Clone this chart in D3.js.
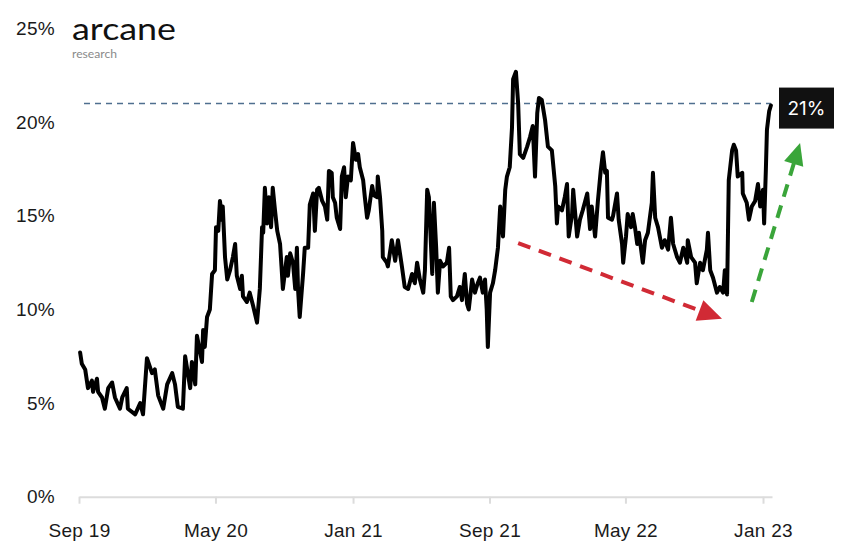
<!DOCTYPE html>
<html>
<head>
<meta charset="utf-8">
<script src="https://cdn.jsdelivr.net/npm/d3@7"></script>
<style>
  html, body { margin: 0; padding: 0; background: #fff; }
  svg { display: block; font-family: Inter, "Open Sans", sans-serif; }
</style>
</head>
<body>
<svg id="chart" width="850" height="547"></svg>
<script>
// ---- data ----
const dates = [
"2019-09-03","2019-09-06","2019-09-12","2019-09-17","2019-09-24","2019-09-26","2019-10-03","2019-10-05","2019-10-12","2019-10-17",
"2019-10-23","2019-10-30","2019-11-04","2019-11-13","2019-11-17","2019-11-25","2019-11-27","2019-12-10","2019-12-19","2019-12-24",
"2019-12-31","2020-01-09","2020-01-14","2020-01-20","2020-01-29","2020-02-05","2020-02-14","2020-02-19","2020-02-24","2020-03-04",
"2020-03-08","2020-03-17","2020-03-20","2020-03-26","2020-03-29","2020-04-07","2020-04-09","2020-04-12","2020-04-16","2020-04-21",
"2020-04-25","2020-04-30","2020-05-02","2020-05-06","2020-05-09","2020-05-13","2020-05-14","2020-05-18","2020-05-22","2020-05-27",
"2020-06-01","2020-06-05","2020-06-08","2020-06-14","2020-06-17","2020-06-19","2020-06-26","2020-07-01","2020-07-07","2020-07-14",
"2020-07-19","2020-07-23","2020-07-25","2020-07-28","2020-08-01","2020-08-04","2020-08-08","2020-08-11","2020-08-15","2020-08-19",
"2020-08-24","2020-08-27","2020-08-29","2020-09-05","2020-09-07","2020-09-11","2020-09-16","2020-09-20","2020-09-23","2020-09-25",
"2020-09-28","2020-10-04","2020-10-07","2020-10-13","2020-10-16","2020-10-22","2020-10-25","2020-10-29","2020-11-01","2020-11-07",
"2020-11-12","2020-11-16","2020-11-19","2020-11-24","2020-11-26","2020-11-30","2020-12-03","2020-12-09","2020-12-12","2020-12-16",
"2020-12-19","2020-12-23","2020-12-28","2021-01-01","2021-01-06","2021-01-10","2021-01-13","2021-01-19","2021-01-22","2021-01-26",
"2021-01-29","2021-02-04","2021-02-07","2021-02-13","2021-02-14","2021-02-18","2021-02-22","2021-02-23","2021-03-02","2021-03-04",
"2021-03-11","2021-03-17","2021-03-22","2021-03-29","2021-04-03","2021-04-09","2021-04-16","2021-04-21","2021-04-25","2021-04-30",
"2021-05-06","2021-05-09","2021-05-13","2021-05-16","2021-05-22","2021-05-25","2021-05-29","2021-06-01","2021-06-05","2021-06-10",
"2021-06-17","2021-06-21","2021-06-24","2021-06-28","2021-07-05","2021-07-10","2021-07-14","2021-07-19","2021-07-23","2021-07-26",
"2021-08-01","2021-08-06","2021-08-11","2021-08-15","2021-08-20","2021-08-24","2021-08-27","2021-08-29","2021-09-02","2021-09-07",
"2021-09-11","2021-09-16","2021-09-20","2021-09-25","2021-09-29","2021-10-02","2021-10-07","2021-10-11","2021-10-13","2021-10-18",
"2021-10-22","2021-10-25","2021-10-31","2021-11-07","2021-11-12","2021-11-17","2021-11-21","2021-11-25","2021-11-28","2021-12-03",
"2021-12-09","2021-12-14","2021-12-21","2021-12-27","2021-12-30","2022-01-01","2022-01-08","2022-01-13","2022-01-17","2022-01-20",
"2022-01-26","2022-01-28","2022-02-04","2022-02-09","2022-02-14","2022-02-22","2022-02-27","2022-03-02","2022-03-08","2022-03-13",
"2022-03-18","2022-03-22","2022-03-26","2022-03-29","2022-03-31","2022-04-07","2022-04-09","2022-04-16","2022-04-19","2022-04-25",
"2022-04-27","2022-05-02","2022-05-05","2022-05-11","2022-05-14","2022-05-18","2022-05-22","2022-05-25","2022-06-01","2022-06-05",
"2022-06-10","2022-06-17","2022-06-19","2022-06-23","2022-06-28","2022-07-05","2022-07-10","2022-07-16","2022-07-21","2022-07-25",
"2022-08-01","2022-08-06","2022-08-12","2022-08-19","2022-08-20","2022-08-26","2022-09-02","2022-09-05","2022-09-11","2022-09-16",
"2022-09-23","2022-09-25","2022-09-29","2022-10-04","2022-10-11","2022-10-16","2022-10-22","2022-10-25","2022-10-29","2022-11-01",
"2022-11-07","2022-11-10","2022-11-14","2022-11-17","2022-11-25","2022-11-26","2022-12-03","2022-12-07","2022-12-12","2022-12-18",
"2022-12-23","2022-12-27","2023-01-01","2023-01-03","2023-01-06","2023-01-08","2023-01-12","2023-01-15"
];
const values = [
7.7,7.1,6.8,5.8,6.2,5.6,6.3,5.6,5.3,4.7,
5.8,6.1,5.3,4.7,5.3,5.8,4.7,4.4,5.0,4.4,
7.4,6.6,6.8,5.4,4.7,6.0,6.6,6.0,4.8,4.7,
7.5,5.8,7.2,6.0,8.6,7.2,8.9,8.0,9.6,10.0,
11.9,12.1,14.4,14.2,15.8,14.8,15.5,12.8,11.6,12.1,
12.8,13.5,11.8,11.1,11.8,10.7,10.4,10.9,10.2,9.3,
11.1,14.4,14.1,16.5,14.6,16.0,14.4,16.5,15.3,14.2,
13.5,12.1,11.1,12.8,11.8,13.0,12.5,11.1,13.3,11.1,
9.6,11.9,13.3,13.3,15.6,16.2,14.2,16.4,16.5,15.8,
15.5,14.8,17.4,17.3,16.0,15.7,14.9,14.3,17.1,17.6,
16.0,17.1,16.9,18.9,18.0,18.3,17.6,16.9,16.0,14.9,
15.3,16.6,16.1,16.0,17.1,16.0,14.2,12.8,12.5,12.3,
13.7,12.6,13.7,12.3,11.2,11.1,11.9,11.4,12.5,11.6,
10.9,12.1,16.4,16.0,11.9,15.7,13.3,10.9,12.6,12.3,
12.5,13.3,10.7,10.5,10.7,11.2,10.5,11.9,10.3,10.0,
11.6,10.9,11.4,11.7,10.9,11.6,10.0,8.0,10.9,11.4,
12.1,13.3,15.5,13.9,16.4,17.1,17.6,19.7,22.3,22.7,
21.0,18.3,18.1,18.7,19.2,19.8,17.1,20.5,21.3,21.2,
20.1,18.7,18.5,16.6,14.6,15.5,15.3,16.0,16.7,13.9,
15.1,16.4,13.9,14.8,15.3,16.2,14.3,15.5,13.9,15.8,
17.4,18.4,17.3,17.4,14.9,14.8,15.0,16.2,14.8,13.5,
12.5,13.9,15.1,14.4,15.1,14.4,13.5,14.1,12.5,13.7,
14.1,15.7,17.3,14.9,14.4,13.3,13.7,13.2,14.9,13.5,
12.8,12.5,13.3,12.5,13.7,12.8,12.5,11.4,12.5,12.1,
13.2,14.1,12.1,11.7,10.9,11.2,10.9,12.1,10.8,16.9,
18.5,18.8,18.5,17.1,17.3,16.2,15.7,14.8,15.5,15.8,
16.7,15.5,16.4,14.6,17.4,19.6,20.6,20.9
];
const yTicks = [0, 5, 10, 15, 20, 25];
const xTickDates = ["2019-09-01","2020-05-01","2021-01-01","2021-09-01","2022-05-01","2023-01-01"];
const refValue = 21;
const refLabel = "21%";
const redArrow = [["2021-10-22", 13.55], ["2022-10-20", 9.5]];
const greenArrow = [["2022-12-12", 10.4], ["2023-03-08", 18.9]];

// ---- chart ----
const parse = d3.utcParse("%Y-%m-%d");
const fmt = d3.utcFormat("%b %y");
const data = dates.map((d, i) => ({ date: parse(d), value: values[i] }));

const svg = d3.select("#chart");
const x = d3.scaleUtc()
  .domain([parse("2019-09-01"), parse("2023-01-17")])
  .range([79, 772]);
const y = d3.scaleLinear().domain([0, 25]).range([496.7, 28.7]);

// x axis
const xAxis = svg.append("g")
  .attr("transform", `translate(0,${y(0)})`)
  .call(d3.axisBottom(x)
    .tickValues(xTickDates.map(parse))
    .tickFormat(fmt)
    .tickSize(7)
    .tickSizeOuter(0));
xAxis.select(".domain").attr("stroke", "#dcdcdc").attr("stroke-width", 2);
xAxis.selectAll(".tick line").attr("stroke", "#dcdcdc").attr("stroke-width", 2);
xAxis.selectAll(".tick text")
  .attr("y", 40).attr("dy", 0)
  .attr("fill", "#1a1a1a")
  .style("font-size", "19px")
  .style("letter-spacing", "0.3px");

// y axis labels
const yAxis = svg.append("g")
  .attr("transform", `translate(79,0)`)
  .call(d3.axisLeft(y).tickValues(yTicks).tickFormat(d => d + "%").tickSize(0).tickPadding(24));
yAxis.select(".domain").remove();
yAxis.selectAll(".tick text")
  .attr("fill", "#1a1a1a")
  .style("font-size", "19px")
  .style("letter-spacing", "0.3px");

// reference dashed line
svg.append("line")
  .attr("x1", 84).attr("x2", x(data[data.length - 1].date))
  .attr("y1", y(refValue)).attr("y2", y(refValue))
  .attr("stroke", "#4f6f8f").attr("stroke-width", 1.5)
  .attr("stroke-dasharray", "6,5");

// main line
const line = d3.line().x(d => x(d.date)).y(d => y(d.value)).curve(d3.curveLinear);
svg.append("path")
  .datum(data)
  .attr("d", line)
  .attr("fill", "none")
  .attr("stroke", "#000")
  .attr("stroke-width", 4)
  .attr("stroke-linejoin", "round")
  .attr("stroke-linecap", "round");

// value label box
const bx = 779, bw = 55, by = y(refValue) - 16, bh = 41;
svg.append("rect").attr("x", bx).attr("y", by).attr("width", bw).attr("height", bh).attr("fill", "#111");
svg.append("text")
  .attr("x", bx + bw / 2).attr("y", by + bh / 2)
  .attr("text-anchor", "middle").attr("dominant-baseline", "central")
  .attr("fill", "#fff").style("font-size", "19px")
  .text(refLabel);

// arrows
function arrow(pts, color, headLen, headW) {
  const [p0, p1] = pts.map(([d, v]) => [x(parse(d)), y(v)]);
  const dx = p1[0] - p0[0], dy = p1[1] - p0[1];
  const L = Math.hypot(dx, dy), ux = dx / L, uy = dy / L;
  const bxp = p1[0] - ux * headLen, byp = p1[1] - uy * headLen;
  svg.append("line")
    .attr("x1", p0[0]).attr("y1", p0[1])
    .attr("x2", bxp + ux * 2).attr("y2", byp + uy * 2)
    .attr("stroke", color).attr("stroke-width", 4)
    .attr("stroke-dasharray", "13,9");
  svg.append("path")
    .attr("d", `M${p1[0]},${p1[1]} L${bxp - uy * headW / 2},${byp + ux * headW / 2} L${bxp + uy * headW / 2},${byp - ux * headW / 2} Z`)
    .attr("fill", color);
}
arrow(redArrow, "#d12a35", 24, 22);
arrow(greenArrow, "#3aa53a", 22, 20);

// logo
svg.append("text")
  .attr("x", 72).attr("y", 40)
  .attr("font-family", "Lato, sans-serif")
  .attr("textLength", 104).attr("lengthAdjust", "spacingAndGlyphs")
  .style("font-size", "30px").attr("fill", "#111")
  .text("arcane");
svg.append("text")
  .attr("x", 72).attr("y", 58)
  .attr("font-family", "Lato, sans-serif")
  .attr("textLength", 45).attr("lengthAdjust", "spacingAndGlyphs")
  .style("font-size", "11px").attr("fill", "#8a8a8a")
  .text("research");
</script>
</body>
</html>
